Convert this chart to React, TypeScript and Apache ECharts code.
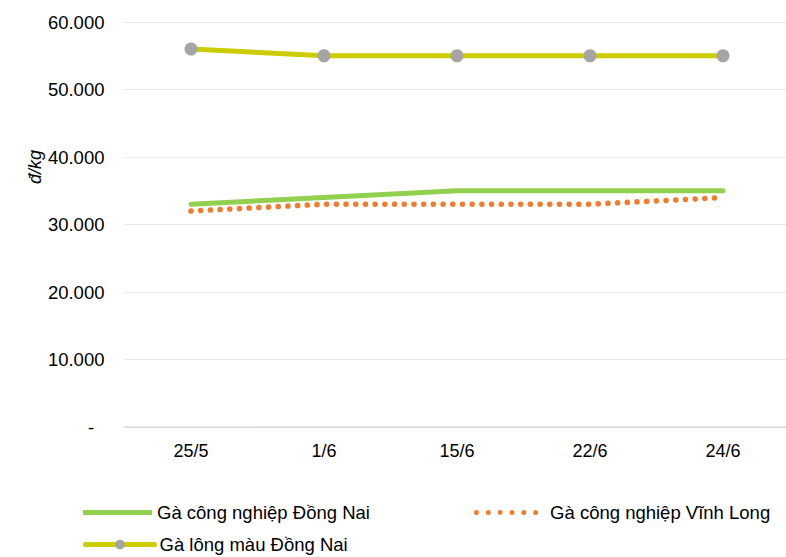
import React, { useEffect, useRef } from "react";
import * as echarts from "echarts";

const categories = ["25/5", "1/6", "15/6", "22/6", "24/6"];
const seriesNames = [
  "Gà công nghiệp Đồng Nai",
  "Gà công nghiệp Vĩnh Long",
  "Gà lông màu Đồng Nai",
];
const dongNaiIndustrial = [33000, 34000, 35000, 35000, 35000];
const vinhLongIndustrial = [32000, 33000, 33000, 33000, 34000];
const dongNaiColored = [56000, 55000, 55000, 55000, 55000];
const yTicks = { min: 0, max: 60000, interval: 10000 };
const unitLabel = "đ/kg";

const FONT = "Arial, 'Liberation Sans', sans-serif";

function dotsPath(n: number, step: number, r: number) {
  let d = "";
  for (let i = 0; i < n; i++) {
    const cx = r + i * step;
    d += `M${cx - r},${r}a${r},${r} 0 1,0 ${2 * r},0a${r},${r} 0 1,0 ${-2 * r},0z`;
  }
  return "path://" + d;
}

export default function App() {
  const ref = useRef<HTMLDivElement>(null);
  useEffect(() => {
    if (!ref.current) return;
    const chart = echarts.init(ref.current, undefined, { renderer: "svg" });
    const legendText = { fontSize: 18.5, color: "#000", fontFamily: FONT };
    chart.setOption({
      animation: false,
      backgroundColor: "#fff",
      textStyle: { fontFamily: FONT },
      grid: { left: 124.5, top: 22, width: 665, height: 405, containLabel: false },
      xAxis: {
        type: "category",
        data: categories,
        boundaryGap: true,
        axisLine: { lineStyle: { color: "#d9d9d9", width: 1.5 } },
        axisTick: { show: false },
        axisLabel: { color: "#000", fontSize: 18, margin: 15, fontFamily: FONT },
      },
      yAxis: {
        type: "value",
        min: yTicks.min,
        max: yTicks.max,
        interval: yTicks.interval,
        axisLine: { show: false },
        axisTick: { show: false },
        splitLine: { lineStyle: { color: "#e8e8e8", width: 1 } },
        axisLabel: {
          color: "#000",
          fontSize: 18.5,
          margin: 20,
          fontFamily: FONT,
          formatter: (v: number) => (v === 0 ? "-  " : v.toLocaleString("de-DE")),
        },
      },
      legend: [
        {
          data: [{ name: seriesNames[0], icon: "path://M0,0h69v5h-69z" }],
          left: 83,
          top: 503,
          padding: 0,
          itemWidth: 69,
          itemHeight: 5,
          itemStyle: { color: "#92d050" },
          textStyle: legendText,
        },
        {
          data: [{ name: seriesNames[1], icon: dotsPath(6, 12.3, 2.6) }],
          left: 474,
          top: 503,
          padding: 0,
          itemWidth: 78,
          itemHeight: 5,
          itemStyle: { color: "#ed7d31" },
          textStyle: legendText,
        },
        {
          data: [seriesNames[2]],
          left: 83,
          top: 535,
          padding: 0,
          itemWidth: 69,
          itemHeight: 12,
          lineStyle: { width: 5, color: "#cccc00" },
          textStyle: legendText,
        },
      ],
      graphic: [
        {
          type: "text",
          x: 35,
          y: 167,
          rotation: Math.PI / 2,
          style: {
            text: unitLabel,
            align: "center",
            verticalAlign: "middle",
            font: "italic 18px Arial, 'Liberation Sans', sans-serif",
            fill: "#000",
          },
        },
      ],
      series: [
        {
          name: seriesNames[0],
          type: "line",
          data: dongNaiIndustrial,
          symbol: "none",
          color: "#92d050",
          lineStyle: { color: "#92d050", width: 5, cap: "round" },
          z: 2,
        },
        {
          name: seriesNames[1],
          type: "line",
          data: vinhLongIndustrial,
          symbol: "none",
          color: "#ed7d31",
          lineStyle: { color: "#ed7d31", width: 5.5, type: [0.1, 9.6], cap: "round" },
          z: 3,
        },
        {
          name: seriesNames[2],
          type: "line",
          data: dongNaiColored,
          symbol: "circle",
          symbolSize: 13,
          showSymbol: true,
          color: "#cccc00",
          itemStyle: { color: "#a5a5a5" },
          lineStyle: { color: "#cccc00", width: 5, cap: "round" },
          z: 4,
        },
      ],
    });
    return () => chart.dispose();
  }, []);
  return (
    <div
      ref={ref}
      style={{ position: "fixed", left: 0, top: 0, width: 800, height: 557 }}
    />
  );
}
